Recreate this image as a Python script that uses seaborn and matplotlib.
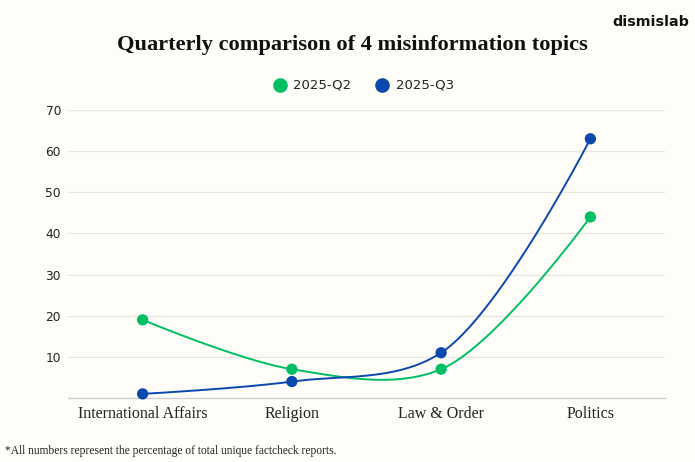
import numpy as np
import pandas as pd
import matplotlib
matplotlib.use("Agg")
import matplotlib.pyplot as plt
import seaborn as sns

categories = ["International Affairs", "Religion", "Law & Order", "Politics"]
q2_values = [19, 7, 7, 44]
q3_values = [1, 4, 11, 63]
series_names = ["2025-Q2", "2025-Q3"]
y_ticks = [10, 20, 30, 40, 50, 60, 70]

BG = "#FFFDF7"
GREEN = "#00BF63"
BLUE = "#0A48AE"

sns.set_theme(style="white")
plt.rcParams["font.family"] = ["DejaVu Sans"]

W, H = 695, 462
fig = plt.figure(figsize=(W / 100, H / 100), dpi=100, facecolor=BG)
ax = fig.add_axes([68 / W, (H - 398) / H, (665 - 68) / W, (398 - 110) / H])
ax.set_facecolor(BG)
ax.set_xlim(-0.5, len(categories) - 0.5)
ax.set_ylim(0, 70)


def catmull_rom(ax, xs, ys, alpha=0.5, n=60):
    pts = ax.transData.transform(np.column_stack([xs, ys]))
    out = []
    m = len(pts)
    for i in range(m - 1):
        p0 = pts[i - 1] if i > 0 else pts[i]
        p1 = pts[i]
        p2 = pts[i + 1]
        p3 = pts[i + 2] if i + 2 < m else pts[i + 1]
        l01 = np.linalg.norm(p1 - p0)
        l12 = np.linalg.norm(p2 - p1)
        l23 = np.linalg.norm(p3 - p2)
        l01a, l12a, l23a = l01 ** alpha, l12 ** alpha, l23 ** alpha
        l01_2a, l12_2a, l23_2a = l01 ** (2 * alpha), l12 ** (2 * alpha), l23 ** (2 * alpha)
        c1 = p1.copy()
        c2 = p2.copy()
        if l01a > 1e-12:
            a = 2 * l01_2a + 3 * l01a * l12a + l12_2a
            nn = 3 * l01a * (l01a + l12a)
            c1 = (p1 * a - p0 * l12_2a + p2 * l01_2a) / nn
        if l23a > 1e-12:
            b = 2 * l23_2a + 3 * l23a * l12a + l12_2a
            mm = 3 * l23a * (l23a + l12a)
            c2 = (p2 * b + p1 * l23_2a - p3 * l12_2a) / mm
        t = np.linspace(0, 1, n)[:, None]
        seg = ((1 - t) ** 3) * p1 + 3 * ((1 - t) ** 2) * t * c1 + 3 * (1 - t) * t ** 2 * c2 + t ** 3 * p2
        if i > 0:
            seg = seg[1:]
        out.append(seg)
    curve = np.vstack(out)
    data = ax.transData.inverted().transform(curve)
    return data[:, 0], data[:, 1]


xpos = np.arange(len(categories))
frames = []
for name, vals in zip(series_names, [q2_values, q3_values]):
    cx, cy = catmull_rom(ax, xpos, vals)
    frames.append(pd.DataFrame({"x": cx, "y": cy, "series": name, "order": np.arange(len(cx))}))
curves = pd.concat(frames, ignore_index=True)
points = pd.DataFrame({
    "x": np.concatenate([xpos, xpos]),
    "y": q2_values + q3_values,
    "series": [series_names[0]] * 4 + [series_names[1]] * 4,
})
palette = {series_names[0]: GREEN, series_names[1]: BLUE}

sns.lineplot(data=curves, x="x", y="y", hue="series", palette=palette, sort=False,
             estimator=None, units="series", linewidth=1.4, legend=False, ax=ax, zorder=3)
sns.scatterplot(data=points, x="x", y="y", hue="series", palette=palette, s=66,
                edgecolor="none", legend=False, ax=ax, zorder=4, clip_on=False)

ax.set_xlim(-0.5, len(categories) - 0.5)
ax.set_ylim(0, 70)
ax.set_xticks(xpos)
ax.set_xticklabels(categories, fontfamily="Liberation Serif", fontsize=11.5, color="#222222")
ax.set_yticks(y_ticks)
ax.set_yticklabels([str(v) for v in y_ticks], fontsize=8.8, color="#222222")
ax.tick_params(axis="both", length=0)
ax.tick_params(axis="x", pad=6)
ax.tick_params(axis="y", pad=5)
ax.set_xlabel("")
ax.set_ylabel("")
ax.grid(axis="y", color="#E8E6E1", linewidth=0.9)
ax.grid(axis="x", visible=False)
for s in ["top", "right", "left"]:
    ax.spines[s].set_visible(False)
ax.spines["bottom"].set_color("#CFCFCF")
ax.spines["bottom"].set_linewidth(1.0)

fig.text(352 / W, 1 - 45 / H, "Quarterly comparison of 4 misinformation topics",
         ha="center", va="center", fontsize=16.1, fontweight="bold",
         fontfamily="Liberation Serif", color="#111111")
fig.text(689 / W, 1 - 22 / H, "dismislab", ha="right", va="center", fontsize=10.3,
         fontweight="bold", color="#111111")

# legend
for cx_, tx_, name, col in [(280, 293, series_names[0], GREEN), (382, 396, series_names[1], BLUE)]:
    fig.lines.append(plt.Line2D([cx_ / W], [1 - 85 / H], marker="o", markersize=9.5,
                                color=col, linestyle="none", transform=fig.transFigure))
    fig.text(tx_ / W, 1 - 85 / H, name, ha="left", va="center", fontsize=9.5, color="#222222")

fig.text(5 / W, 1 - 451 / H, "*All numbers represent the percentage of total unique factcheck reports.",
         ha="left", va="center", fontsize=8.3, fontfamily="Liberation Serif", color="#222222")

fig.savefig("out.png", dpi=100, facecolor=BG)
